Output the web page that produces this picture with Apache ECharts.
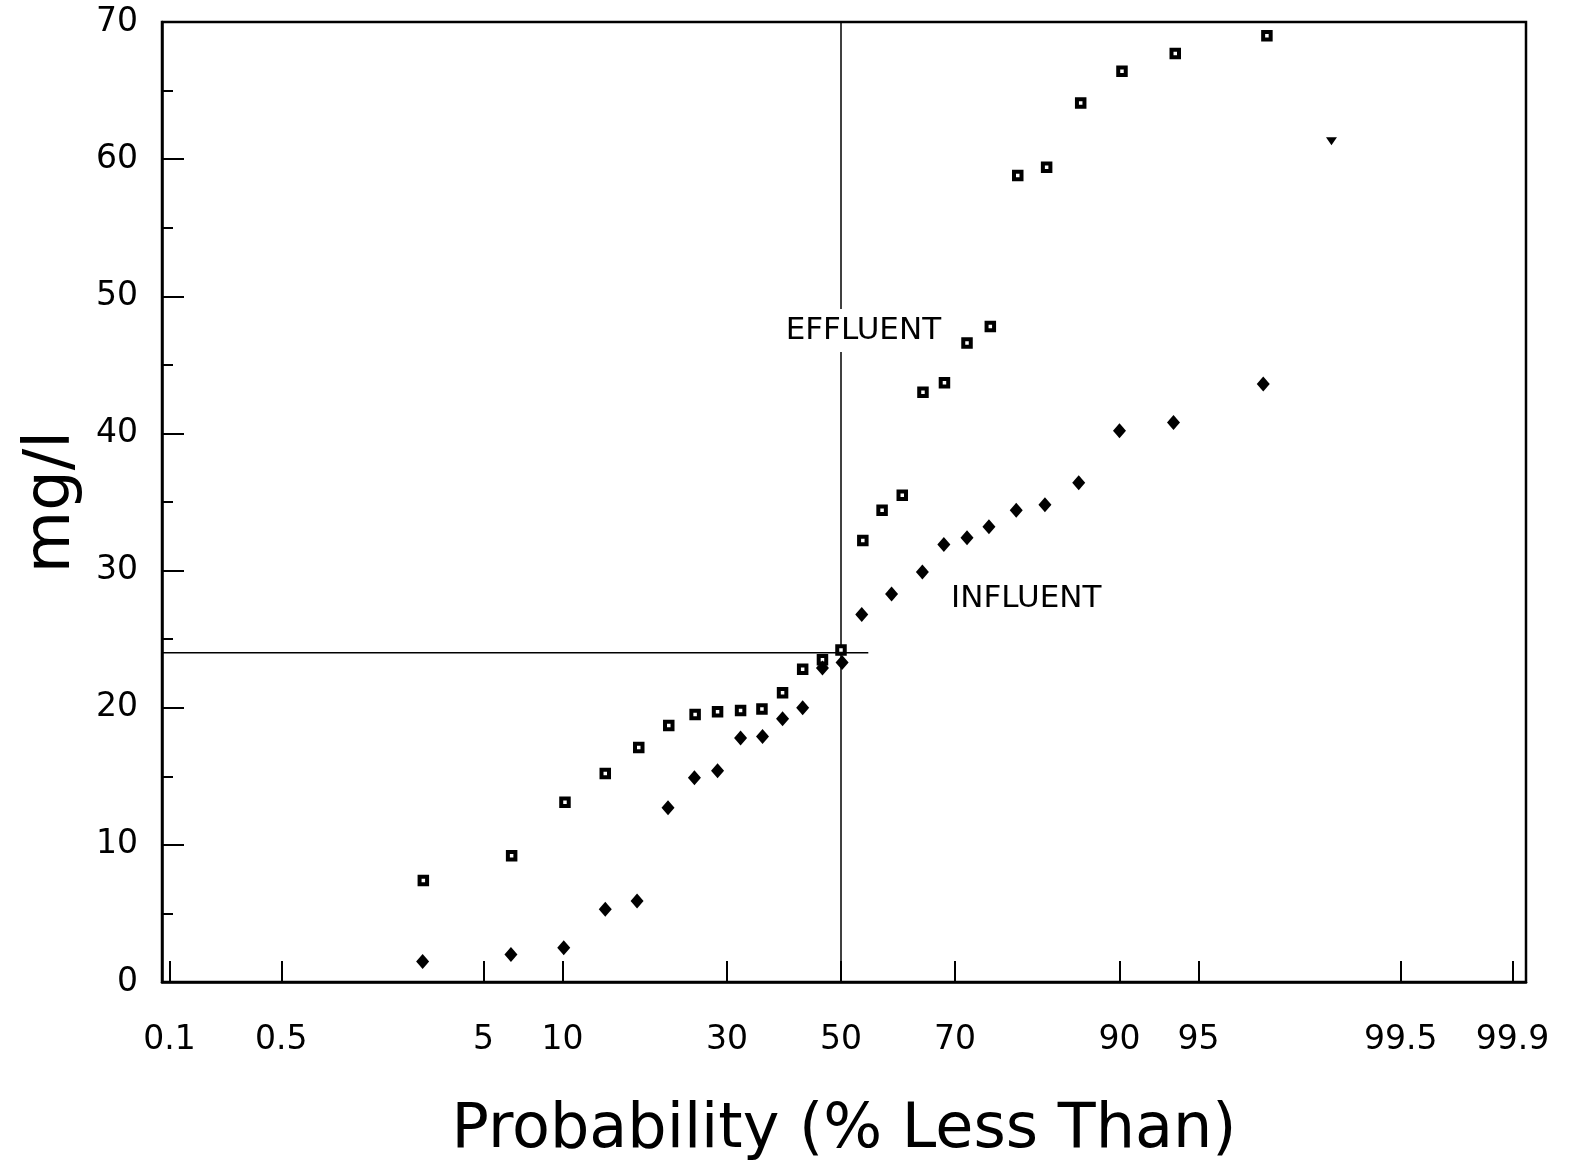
<!DOCTYPE html>
<html><head><meta charset="utf-8">
<script src="https://cdn.jsdelivr.net/npm/echarts@6/dist/echarts.min.js"></script>
<style>html,body{margin:0;padding:0;background:#fff}#c{width:1572px;height:1164px}</style>
</head><body><div id="c"></div>
<script>
// ---- data (probability in % less than, concentration in mg/l) ----
const tickProbs  = [0.1, 0.5, 5, 10, 30, 50, 70, 90, 95, 99.5, 99.9];
const tickLabels = ['0.1', '0.5', '5', '10', '30', '50', '70', '90', '95', '99.5', '99.9'];
const axisProbMin = 0.089, axisProbMax = 99.919;
const yMin = 0, yMax = 70, yStep = 10;

const effluentProb = [2.73, 6.48, 10.2, 13.9, 17.6, 21.4, 25.1, 28.5, 32.2, 35.8, 39.4, 43.0, 46.6, 50.0,
                      54.0, 57.5, 61.1, 64.7, 68.3, 71.9, 75.4, 79.2, 82.8, 86.5, 90.2, 93.8, 97.5];
const effluentMgL  = [7.4, 9.2, 13.1, 15.2, 17.1, 18.7, 19.5, 19.7, 19.8, 19.9, 21.1, 22.8, 23.5, 24.2,
                      32.2, 34.4, 35.5, 43.0, 43.7, 46.6, 47.8, 58.8, 59.4, 64.1, 66.4, 67.7, 69.0];
const influentProb = [2.71, 6.44, 10.1, 13.9, 17.4, 21.3, 25.0, 28.5, 32.2, 35.9, 39.4, 43.0, 46.6, 50.2,
                      53.8, 59.2, 64.6, 68.2, 71.9, 75.2, 79.0, 82.6, 86.3, 90.0, 93.7, 97.4];
const influentMgL  = [1.5, 2.0, 2.5, 5.3, 5.9, 12.7, 14.9, 15.4, 17.8, 17.9, 19.2, 20.0, 22.9, 23.3,
                      26.8, 28.3, 29.9, 31.9, 32.4, 33.2, 34.4, 34.8, 36.4, 40.2, 40.8, 43.6];
const strayProb = [98.8];
const strayMgL  = [61.3];

const medianProb = 50, medianMgL = 24, medianLineEndProb = 55;
const annotations = [
  { text: 'EFFLUENT', prob: 54.1, mgl: 47.5 },
  { text: 'INFLUENT', prob: 80.3, mgl: 27.9 }
];

// ---- normal probability scale (inverse normal CDF, Acklam) ----
function probit(p) {
  const a = [-3.969683028665376e+01, 2.209460984245205e+02, -2.759285104469687e+02, 1.383577518672690e+02, -3.066479806614716e+01, 2.506628277459239e+00];
  const b = [-5.447609879822406e+01, 1.615858368580409e+02, -1.556989798598866e+02, 6.680131188771972e+01, -1.328068155288572e+01];
  const c = [-7.784894002430293e-03, -3.223964580411365e-01, -2.400758277161838e+00, -2.549671743187677e+00, 4.374664141464968e+00, 2.938163982698783e+00];
  const d = [7.784695709041462e-03, 3.224671290700398e-01, 2.445134137142996e+00, 3.754408661907416e+00];
  const pl = 0.02425, ph = 1 - pl;
  let q, r;
  if (p < pl) {
    q = Math.sqrt(-2 * Math.log(p));
    return (((((c[0]*q+c[1])*q+c[2])*q+c[3])*q+c[4])*q+c[5]) / ((((d[0]*q+d[1])*q+d[2])*q+d[3])*q+1);
  } else if (p <= ph) {
    q = p - 0.5; r = q*q;
    return (((((a[0]*r+a[1])*r+a[2])*r+a[3])*r+a[4])*r+a[5])*q / (((((b[0]*r+b[1])*r+b[2])*r+b[3])*r+b[4])*r+1);
  } else {
    q = Math.sqrt(-2 * Math.log(1 - p));
    return -(((((c[0]*q+c[1])*q+c[2])*q+c[3])*q+c[4])*q+c[5]) / ((((d[0]*q+d[1])*q+d[2])*q+d[3])*q+1);
  }
}
const z = pct => probit(pct / 100);
const tickZ = tickProbs.map(z);
const pairs = (xs, ys) => xs.map((p, i) => [z(p), ys[i]]);

const FONT = '"DejaVu Sans", "Liberation Sans", sans-serif';
const chart = echarts.init(document.getElementById('c'), null, { renderer: 'canvas' });

chart.setOption({
  animation: false,
  backgroundColor: '#fff',
  grid: { left: 162, right: 46, top: 22, bottom: 182, show: true, borderColor: '#000', borderWidth: 2.5,
          containLabel: false, outerBoundsMode: 'none' },
  xAxis: {
    type: 'value',
    min: z(axisProbMin), max: z(axisProbMax),
    name: 'Probability (% Less Than)',
    nameLocation: 'middle', nameGap: 118,
    nameTextStyle: { fontFamily: FONT, fontSize: 62, color: '#000' },
    axisLine: { show: true, onZero: false, lineStyle: { color: '#000', width: 2.5 } },
    axisTick: { show: true, inside: true, length: 21, customValues: tickZ, lineStyle: { color: '#000', width: 2 } },
    axisLabel: {
      customValues: tickZ, margin: 42, fontFamily: FONT, fontSize: 33, color: '#000',
      formatter: v => {
        let best = 0;
        tickZ.forEach((t, i) => { if (Math.abs(t - v) < Math.abs(tickZ[best] - v)) best = i; });
        return tickLabels[best];
      }
    },
    splitLine: { show: false }
  },
  yAxis: {
    type: 'value', min: yMin, max: yMax, interval: yStep,
    name: 'mg/l', nameLocation: 'middle', nameGap: 78,
    nameTextStyle: { fontFamily: FONT, fontSize: 64, color: '#000' },
    axisLine: { show: true, onZero: false, lineStyle: { color: '#000', width: 2.5 } },
    axisTick: { show: true, inside: true, length: 22, lineStyle: { color: '#000', width: 2 } },
    minorTick: { show: true, splitNumber: 2, length: 11, lineStyle: { color: '#000', width: 2 } },
    axisLabel: { margin: 24, fontFamily: FONT, fontSize: 33, color: '#000' },
    splitLine: { show: false }
  },
  series: [
    { type: 'line', data: [[z(medianProb), yMin], [z(medianProb), yMax]], symbol: 'none',
      lineStyle: { color: '#000', width: 1.5 }, z: 1 },
    { type: 'line', data: [[z(axisProbMin), medianMgL], [z(medianLineEndProb), medianMgL]], symbol: 'none',
      lineStyle: { color: '#000', width: 1.5 }, z: 1 },
    { name: 'Effluent', type: 'scatter', data: pairs(effluentProb, effluentMgL),
      symbol: 'rect', symbolSize: 7.5,
      itemStyle: { color: '#fff', borderColor: '#000', borderWidth: 4, opacity: 1 }, z: 3 },
    { name: 'Influent', type: 'scatter', data: pairs(influentProb, influentMgL),
      symbol: 'diamond', symbolSize: [13, 15],
      itemStyle: { color: '#000', opacity: 1 }, z: 3 },
    { name: 'Stray', type: 'scatter', data: pairs(strayProb, strayMgL),
      symbol: 'triangle', symbolRotate: 180, symbolSize: [11, 8],
      itemStyle: { color: '#000', opacity: 1 }, z: 3 }
  ]
});

const graphics = annotations.map(a => {
  const [px, py] = chart.convertToPixel({ gridIndex: 0 }, [z(a.prob), a.mgl]);
  return {
    type: 'text', x: px, y: py, z: 10,
    style: { text: a.text, fill: '#000', font: '31px ' + FONT, align: 'center', verticalAlign: 'middle',
             backgroundColor: '#fff', padding: [6, 2] }
  };
});
chart.setOption({ graphic: graphics });
</script>
</body></html>
